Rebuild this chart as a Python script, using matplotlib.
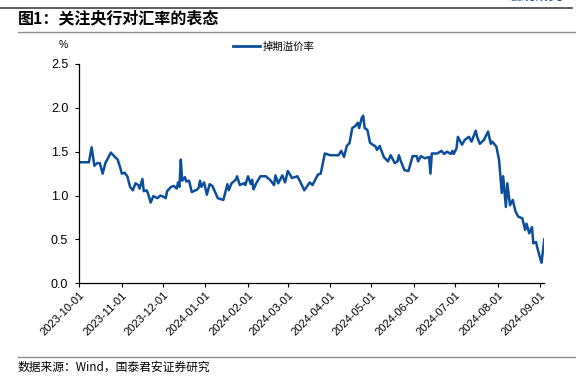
import matplotlib
matplotlib.use("Agg")
import matplotlib.pyplot as plt
from matplotlib.lines import Line2D
import pandas as pd

plt.rcParams['font.family'] = ['Liberation Sans', 'Noto Sans CJK SC', 'DejaVu Sans']

title = "图1：关注央行对汇率的表态"
series_name = "掉期溢价率"
source = "数据来源：Wind，国泰君安证券研究"
y_unit = "%"

dates = [
    "2023-10-01", "2023-10-08", "2023-10-10", "2023-10-12", "2023-10-14", "2023-10-16",
    "2023-10-18", "2023-10-20", "2023-10-24", "2023-10-27", "2023-10-29", "2023-10-31",
    "2023-11-01", "2023-11-03", "2023-11-05", "2023-11-07", "2023-11-09", "2023-11-11",
    "2023-11-13", "2023-11-14", "2023-11-16", "2023-11-17", "2023-11-19", "2023-11-20",
    "2023-11-22", "2023-11-24", "2023-11-27", "2023-11-29", "2023-12-01", "2023-12-03",
    "2023-12-04", "2023-12-07", "2023-12-09", "2023-12-11", "2023-12-12", "2023-12-13",
    "2023-12-14", "2023-12-15", "2023-12-17", "2023-12-18", "2023-12-20", "2023-12-22",
    "2023-12-26", "2023-12-27", "2023-12-28", "2023-12-29", "2023-12-31", "2024-01-02",
    "2024-01-04", "2024-01-06", "2024-01-10", "2024-01-14", "2024-01-17", "2024-01-18",
    "2024-01-20", "2024-01-23", "2024-01-24", "2024-01-26", "2024-01-29", "2024-01-30",
    "2024-02-01", "2024-02-03", "2024-02-04", "2024-02-05", "2024-02-07", "2024-02-10",
    "2024-02-14", "2024-02-17", "2024-02-20", "2024-02-21", "2024-02-23", "2024-02-26",
    "2024-02-28", "2024-03-01", "2024-03-03",
    "2024-03-04", "2024-03-08", "2024-03-10", "2024-03-13", "2024-03-17", "2024-03-19",
    "2024-03-23", "2024-03-25", "2024-03-28", "2024-04-01", "2024-04-07", "2024-04-09",
    "2024-04-11", "2024-04-13", "2024-04-15", "2024-04-17", "2024-04-19", "2024-04-21",
    "2024-04-22", "2024-04-24", "2024-04-25", "2024-04-26", "2024-04-28", "2024-04-30",
    "2024-05-04", "2024-05-05", "2024-05-07", "2024-05-10", "2024-05-13", "2024-05-15",
    "2024-05-18", "2024-05-20", "2024-05-21", "2024-05-22", "2024-05-25", "2024-05-28",
    "2024-05-31", "2024-06-03", "2024-06-04", "2024-06-06", "2024-06-09", "2024-06-12",
    "2024-06-13", "2024-06-14", "2024-06-18", "2024-06-21", "2024-06-23", "2024-06-25",
    "2024-06-28", "2024-06-29", "2024-06-30", "2024-07-02", "2024-07-03", "2024-07-06",
    "2024-07-08", "2024-07-11", "2024-07-13", "2024-07-16", "2024-07-17", "2024-07-19",
    "2024-07-22", "2024-07-25", "2024-07-27", "2024-07-28", "2024-07-31", "2024-08-02",
    "2024-08-04", "2024-08-05", "2024-08-07", "2024-08-08", "2024-08-10", "2024-08-12",
    "2024-08-14", "2024-08-16", "2024-08-19", "2024-08-21", "2024-08-22", "2024-08-24",
    "2024-08-26", "2024-08-27", "2024-08-29", "2024-08-30", "2024-09-01", "2024-09-02",
    "2024-09-04",
]
values = [
    1.38, 1.38, 1.55, 1.34, 1.37, 1.37,
    1.25, 1.37, 1.49, 1.44, 1.41, 1.31,
    1.25, 1.26, 1.22, 1.10, 1.06, 1.14,
    1.12, 1.08, 1.19, 1.05, 1.06, 1.03,
    0.92, 0.995, 0.97, 1.00, 0.99, 0.97,
    1.05, 1.10, 1.11, 1.08, 1.15, 1.10,
    1.41, 1.17, 1.21, 1.16, 1.17, 1.04,
    1.07, 1.09, 1.17, 1.10, 1.15, 1.01,
    1.13, 1.11, 0.97, 0.95, 1.13, 1.06,
    1.14, 1.18, 1.22, 1.12, 1.14, 1.12,
    1.22, 1.13, 1.18, 1.07, 1.14, 1.22,
    1.22, 1.18, 1.12, 1.23, 1.14, 1.23,
    1.15, 1.28, 1.23,
    1.20, 1.22, 1.16, 1.06, 1.15, 1.12,
    1.24, 1.25, 1.48, 1.46, 1.46, 1.51,
    1.44, 1.565, 1.60, 1.77, 1.79, 1.83,
    1.77, 1.89, 1.91, 1.77, 1.75, 1.60,
    1.56, 1.52, 1.565, 1.44, 1.39, 1.46,
    1.37, 1.39, 1.46, 1.41, 1.29, 1.28,
    1.45, 1.45, 1.39, 1.45, 1.425, 1.44,
    1.25, 1.48, 1.48, 1.51, 1.475, 1.50,
    1.475, 1.51, 1.475, 1.54, 1.67, 1.58,
    1.634, 1.67, 1.615, 1.74, 1.67, 1.59,
    1.634, 1.73, 1.59, 1.615, 1.56, 1.41,
    1.03, 1.22, 0.87, 1.14, 0.89, 0.95,
    0.82, 0.76, 0.74, 0.61, 0.68, 0.57,
    0.64, 0.456, 0.47, 0.40, 0.285, 0.235,
    0.50,
]
tick_dates = ["2023-10-01", "2023-11-01", "2023-12-01", "2024-01-01", "2024-02-01",
              "2024-03-01", "2024-04-01", "2024-05-01", "2024-06-01", "2024-07-01",
              "2024-08-01", "2024-09-01"]
y_ticks = [0.0, 0.5, 1.0, 1.5, 2.0, 2.5]

W, H = 576, 386
fig = plt.figure(figsize=(W / 100, H / 100), dpi=100)

def fx(px):
    return px / W

def fy(py):
    return 1 - py / H

ax = fig.add_axes([fx(79.3), fy(283.3), fx(544.3) - fx(79.3), fy(64) - fy(283.3)])

x = pd.to_datetime(dates)
line_color = "#0B4F9C"
ax.plot(x, values, color=line_color, lw=1.8, solid_joinstyle='round')

ax.set_ylim(0, 2.5)
ax.set_yticks(y_ticks)
ax.set_yticklabels([f"{v:.1f}" for v in y_ticks], fontsize=9)
xt = pd.to_datetime(tick_dates)
ax.set_xlim(pd.Timestamp("2023-10-01"), x[-1])
ax.set_xticks(xt)
ax.set_xticklabels([d for d in tick_dates], rotation=45, ha='right',
                   rotation_mode='anchor', fontsize=8)

for s in ['top', 'right']:
    ax.spines[s].set_visible(False)
for s in ['left', 'bottom']:
    ax.spines[s].set_color('black')
    ax.spines[s].set_linewidth(0.9)
ax.tick_params(axis='both', direction='out', length=3, width=0.8, color='black', pad=2)
ax.tick_params(axis='y', pad=5)

# unit label
fig.text(fx(63), fy(45), y_unit, fontsize=7.5, ha='center', va='center')

# legend
leg_handle = Line2D([0], [0], color=line_color, lw=2)
fig.legend([leg_handle], [series_name], loc='center left',
           bbox_to_anchor=(fx(229), fy(47)), frameon=False,
           handlelength=2.6, handletextpad=0.2, borderaxespad=0,
           prop={'family': ['Noto Sans CJK SC'], 'size': 7.5})

# title and decorations
fig.text(fx(18), fy(18), title, fontsize=11.5, fontweight='bold', ha='left', va='center',
         family=['Noto Sans CJK SC', 'DejaVu Sans'])
fig.add_artist(Line2D([fx(0), fx(572)], [fy(7.5), fy(7.5)], color='#404040', lw=1.2))
fig.add_artist(Line2D([fx(18), fx(576)], [fy(32), fy(32)], color='#909090', lw=1.0))
fig.add_artist(Line2D([fx(18), fx(576)], [fy(357), fy(357)], color='#909090', lw=1.0))
fig.text(fx(535), fy(-3), "宏观研究", fontsize=10, fontweight='bold', color='#1F4E9A',
         ha='center', va='center', family=['Noto Sans CJK SC'])
fig.text(fx(18), fy(367), source, fontsize=8.5, ha='left', va='center',
         family=['Noto Sans CJK SC', 'DejaVu Sans'])

fig.savefig("out.png", dpi=100)
